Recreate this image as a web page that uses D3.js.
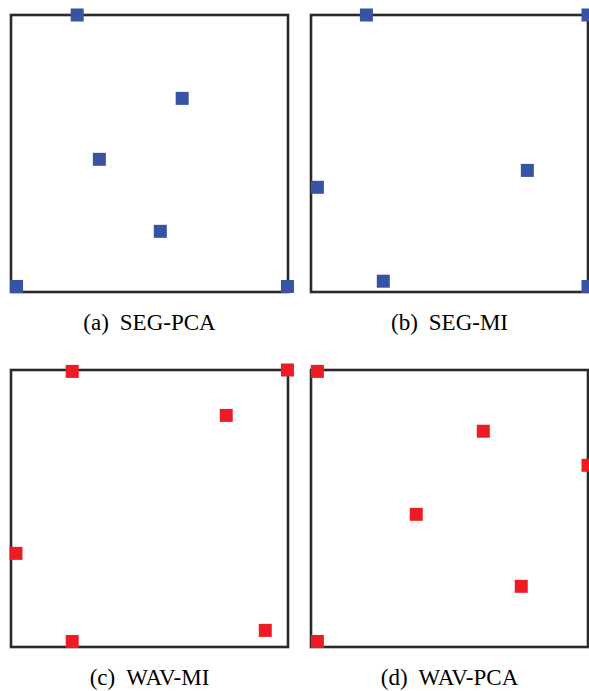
<!DOCTYPE html>
<html>
<head>
<meta charset="utf-8">
<script src="https://cdn.jsdelivr.net/npm/d3@7"></script>
<style>
  html, body { margin: 0; padding: 0; background: #fff; }
  svg { display: block; }
  .cap { font-family: "Liberation Serif", "Times New Roman", Times, serif; }
</style>
</head>
<body>
<svg id="chart" width="589" height="691"></svg>
<script>
// ---- data (normalized positions in each panel, 0..1) ----
const panelLabels = ["(a)", "(b)", "(c)", "(d)"];
const panelTitles = ["SEG-PCA", "SEG-MI", "WAV-MI", "WAV-PCA"];
const panelColors = ["#3753a6", "#3753a6", "#ed1c24", "#ed1c24"];

const segPcaX = [0.239, 0.618, 0.319, 0.539, 0.020, 0.998];
const segPcaY = [1.000, 0.699, 0.479, 0.219, 0.020, 0.020];

const segMiX = [0.200, 1.000, 0.781, 0.023, 0.261, 1.000];
const segMiY = [1.000, 1.000, 0.439, 0.378, 0.039, 0.020];

const wavMiX = [0.221, 0.998, 0.777, 0.018, 0.918, 0.221];
const wavMiY = [0.995, 1.000, 0.836, 0.338, 0.060, 0.020];

const wavPcaX = [0.023, 0.622, 1.000, 0.380, 0.759, 0.023];
const wavPcaY = [0.995, 0.779, 0.656, 0.479, 0.219, 0.020];

const panelX = [segPcaX, segMiX, wavMiX, wavPcaX];
const panelY = [segPcaY, segMiY, wavMiY, wavPcaY];

// ---- layout ----
const svg = d3.select("#chart");
const frameSize = 277;
const origins = [[11, 15], [311, 15], [11, 370], [311, 370]];
const markerSize = 13;

panelTitles.forEach((title, i) => {
  const [ox, oy] = origins[i];
  const x = d3.scaleLinear().domain([0, 1]).range([ox, ox + frameSize]);
  const y = d3.scaleLinear().domain([0, 1]).range([oy + frameSize, oy]);
  const g = svg.append("g");

  g.append("rect")
    .attr("x", x(0)).attr("y", y(1))
    .attr("width", x(1) - x(0)).attr("height", y(0) - y(1))
    .attr("fill", "none")
    .attr("stroke", "#2a2a2a")
    .attr("stroke-width", 2.6);

  const pts = panelX[i].map((v, k) => ({ x: v, y: panelY[i][k] }));
  g.selectAll("rect.pt").data(pts).enter().append("rect")
    .attr("class", "pt")
    .attr("x", d => x(d.x) - markerSize / 2)
    .attr("y", d => y(d.y) - markerSize / 2)
    .attr("width", markerSize).attr("height", markerSize)
    .attr("fill", panelColors[i]);

  const t = g.append("text")
    .attr("class", "cap")
    .attr("x", (x(0) + x(1)) / 2)
    .attr("y", y(0) + 38)
    .attr("text-anchor", "middle")
    .attr("font-size", 23)
    .attr("fill", "#000");
  t.append("tspan").text(panelLabels[i]);
  t.append("tspan").attr("dx", 11).text(title);
});
</script>
</body>
</html>
